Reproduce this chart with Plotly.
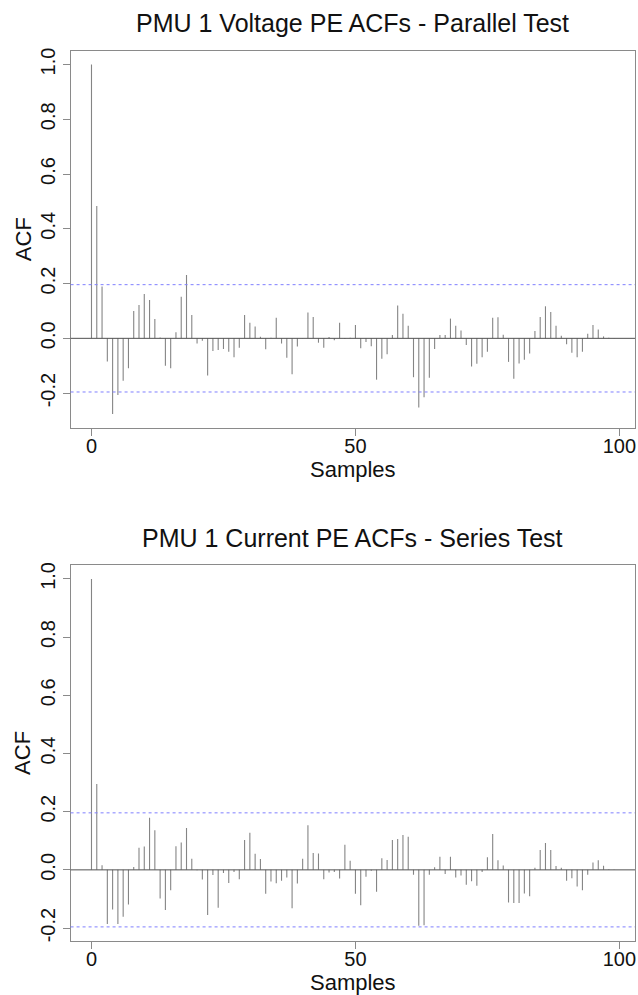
import numpy as np
import plotly.graph_objects as go

# Autocorrelation estimates, lags 0..99
lags = list(range(100))

voltage_acf = [
    1.000, 0.483, 0.189, -0.085, -0.276, -0.207, -0.155, -0.109, 0.100, 0.122,
    0.162, 0.140, 0.071, 0.003, -0.100, -0.109, 0.022, 0.152, 0.231, 0.085,
    -0.019, -0.009, -0.136, -0.046, -0.043, -0.039, -0.049, -0.069, -0.034, 0.085,
    0.057, 0.043, 0.006, -0.040, 0.002, 0.075, -0.019, -0.071, -0.131, -0.030,
    0.001, 0.094, 0.078, -0.016, -0.034, 0.005, -0.007, 0.057, -0.002, 0.002,
    0.049, -0.036, -0.013, -0.029, -0.151, -0.075, -0.058, 0.012, 0.120, 0.090,
    0.046, -0.142, -0.253, -0.215, -0.144, -0.039, 0.012, 0.012, 0.072, 0.046,
    0.029, -0.024, -0.103, -0.093, -0.069, -0.049, 0.075, 0.077, 0.013, -0.086,
    -0.148, -0.092, -0.078, -0.055, 0.027, 0.078, 0.117, 0.096, 0.046, 0.009,
    -0.022, -0.053, -0.069, -0.049, 0.017, 0.049, 0.032, 0.007, 0.002, -0.001,
]

current_acf = [
    1.000, 0.295, 0.016, -0.186, -0.136, -0.186, -0.161, -0.119, 0.010, 0.076,
    0.080, 0.179, 0.136, -0.098, -0.138, -0.070, 0.081, 0.094, 0.144, 0.038,
    -0.001, -0.033, -0.155, -0.018, -0.130, -0.011, -0.045, -0.007, -0.032, 0.103,
    0.128, 0.055, 0.037, -0.082, -0.040, -0.046, -0.037, -0.026, -0.132, -0.047,
    0.038, 0.153, 0.058, 0.056, -0.032, -0.009, -0.007, -0.030, 0.086, 0.031,
    -0.082, -0.122, -0.024, -0.003, -0.075, 0.040, 0.034, 0.103, 0.106, 0.120,
    0.114, -0.017, -0.192, -0.190, -0.017, 0.009, 0.045, -0.014, 0.045, -0.026,
    -0.019, -0.051, -0.039, -0.055, -0.007, 0.043, 0.123, 0.033, 0.015, -0.112,
    -0.114, -0.114, -0.081, -0.091, 0.007, 0.068, 0.092, 0.068, 0.013, 0.007,
    -0.037, -0.029, -0.057, -0.070, -0.017, 0.025, 0.033, 0.014, 0.002, 0.001,
]

titles = ["PMU 1 Voltage PE ACFs - Parallel Test", "PMU 1 Current PE ACFs - Series Test"]
x_ticks = [0, 50, 100]
y_ticks = [-0.2, 0.0, 0.2, 0.4, 0.6, 0.8, 1.0]
y_ticktext = ["-0.2", "0.0", "0.2", "0.4", "0.6", "0.8", "1.0"]

n_obs = 100
clim = 1.96 / np.sqrt(n_obs)  # 95% white-noise band

W, H = 638, 995
FONT = "Liberation Sans, Arial, Helvetica, sans-serif"
BOX = "#8a8a8a"
BAR = "#858585"


def px_x(p):
    return p / W


def px_y(p):
    return 1 - p / H


# plot-box positions in pixels (left, right, top, bottom)
box_left, box_right = 70.7, 636.0
panels = [
    dict(top=47.7, bottom=426.6, acf=voltage_acf),
    dict(top=564.3, bottom=941.6, acf=current_acf),
]

fig = go.Figure()

xr_lo, xr_hi = min(lags), max(lags)
xpad = 0.04 * (xr_hi - xr_lo)
x_range = [xr_lo - xpad, xr_hi + xpad]

annotations = []
shapes = []
for i, p in enumerate(panels):
    acf = np.array(p["acf"])
    ax = "" if i == 0 else str(i + 1)
    xa, ya = "x" + ax, "y" + ax

    # vertical spikes from zero to each ACF value
    lg = np.array(lags, dtype=float)
    xs = np.column_stack([lg, lg, np.full_like(lg, np.nan)]).ravel()
    ys = np.column_stack([np.zeros_like(acf), acf, np.full_like(acf, np.nan)]).ravel()
    fig.add_trace(go.Scatter(x=xs, y=ys, mode="lines", xaxis=xa, yaxis=ya,
                             line=dict(color=BAR, width=1.1), showlegend=False,
                             hoverinfo="skip", connectgaps=False))

    ylo = min(-clim, acf.min())
    yhi = max(clim, acf.max())
    ypad = 0.04 * (yhi - ylo)
    y_range = [ylo - ypad, yhi + ypad]

    axis_common = dict(showgrid=False, zeroline=False, showline=True, mirror=True,
                       linecolor=BOX, linewidth=1, ticks="outside", ticklen=7,
                       tickcolor=BOX, tickwidth=1,
                       tickfont=dict(family=FONT, size=20, color="#111"))
    fig.update_layout(**{
        "xaxis" + ax: dict(domain=[px_x(box_left), px_x(box_right)], range=x_range,
                           tickvals=x_ticks, anchor=ya, ticklabelstandoff=-7,
                           **axis_common),
        "yaxis" + ax: dict(domain=[px_y(p["bottom"]), px_y(p["top"])], range=y_range,
                           tickvals=y_ticks, ticktext=y_ticktext, tickangle=-90,
                           anchor=xa, **axis_common),
    })

    # zero line and confidence band
    shapes.append(dict(type="line", xref=xa + " domain", yref=ya, x0=0, x1=1, y0=0, y1=0,
                       line=dict(color="#505050", width=1)))
    for c in (clim, -clim):
        shapes.append(dict(type="line", xref=xa + " domain", yref=ya, x0=0, x1=1, y0=c, y1=c,
                           line=dict(color="#7f7fff", width=1, dash="dot")))

    cx = px_x((box_left + box_right) / 2)
    annotations.append(dict(text=titles[i], x=cx, y=px_y(p["top"] - 27.5), xref="paper",
                            yref="paper", showarrow=False, xanchor="center", yanchor="middle",
                            font=dict(family=FONT, size=25, color="#111")))
    annotations.append(dict(text="Samples", x=cx, y=px_y(p["bottom"] + 42), xref="paper",
                            yref="paper", showarrow=False, xanchor="center", yanchor="middle",
                            font=dict(family=FONT, size=22, color="#111")))
    annotations.append(dict(text="ACF", x=px_x(23), y=px_y((p["top"] + p["bottom"]) / 2),
                            xref="paper", yref="paper", showarrow=False, textangle=-90,
                            xanchor="center", yanchor="middle",
                            font=dict(family=FONT, size=22, color="#111")))

fig.update_layout(width=W, height=H, autosize=False,
                  margin=dict(l=0, r=0, t=0, b=0, pad=0),
                  paper_bgcolor="white", plot_bgcolor="white",
                  annotations=annotations, shapes=shapes, showlegend=False)

fig.write_html("out.html", config=dict(displayModeBar=False))
